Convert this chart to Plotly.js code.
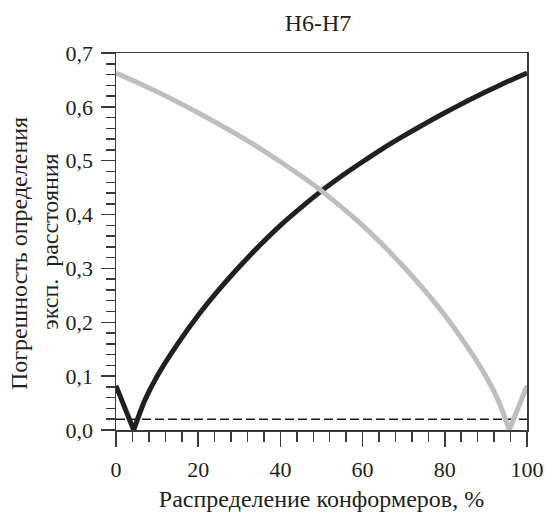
<!DOCTYPE html>
<html>
<head>
<meta charset="utf-8">
<script src="https://cdn.plot.ly/plotly-3.0.1.min.js"></script>
<style>
  html, body { margin: 0; padding: 0; background: #ffffff; }
  #chart { width: 545px; height: 512px; }
</style>
</head>
<body>
<div id="chart"></div>
<script>
// Conformer distribution, % (x) and relative error (y)
const blackX = [0, 4.3, 7, 10, 15, 20, 25, 30, 35, 40, 45, 50, 55, 60, 65, 70, 75, 80, 85, 90, 95, 100];
const blackY = [0.082, 0.0, 0.055, 0.100, 0.160, 0.213, 0.260, 0.303, 0.343, 0.380, 0.413, 0.444, 0.472, 0.498, 0.523, 0.546, 0.568, 0.589, 0.609, 0.628, 0.646, 0.663];

const grayX = [0, 5, 10, 15, 20, 25, 30, 35, 40, 45, 50, 55, 60, 65, 70, 75, 80, 85, 90, 93, 95.7, 100];
const grayY = [0.663, 0.646, 0.628, 0.609, 0.589, 0.568, 0.546, 0.523, 0.498, 0.472, 0.444, 0.413, 0.380, 0.343, 0.303, 0.260, 0.213, 0.160, 0.100, 0.055, 0.0, 0.082];

const thresholdX = [0, 100];
const thresholdY = [0.02, 0.02];

const xTickVals = [0, 20, 40, 60, 80, 100];
const yTickVals = [0, 0.1, 0.2, 0.3, 0.4, 0.5, 0.6, 0.7];
const yTickText = ['0,0', '0,1', '0,2', '0,3', '0,4', '0,5', '0,6', '0,7'];

const titleText = 'H6-H7';
const xTitle = 'Распределение конформеров, %';
const yTitle = 'Погрешность определения\u00A0\u00A0\u00A0\u00A0<br>эксп.\u00A0 расстояния';

const FONT = '"Liberation Serif", "Times New Roman", Times, serif';
const AX = '#3a3a3a';
const TXT = '#231f20';

// black curve: straight left arm, smooth right branch
const bLeft = { x: blackX.slice(0, 2), y: blackY.slice(0, 2) };
const bRight = { x: blackX.slice(1), y: blackY.slice(1) };
// gray curve: smooth left branch, straight right arm
const n = grayX.length;
const gLeft = { x: grayX.slice(0, n - 1), y: grayY.slice(0, n - 1) };
const gRight = { x: grayX.slice(n - 2), y: grayY.slice(n - 2) };

const blackLine = { color: '#231f20', width: 5 };
const grayLine = { color: '#bdbec1', width: 5 };

const traces = [
  { x: thresholdX, y: thresholdY, mode: 'lines', line: { color: '#1a1a1a', width: 1.5, dash: '9px,4px' }, showlegend: false },
  { x: bLeft.x, y: bLeft.y, mode: 'lines', line: blackLine, showlegend: false },
  { x: bRight.x, y: bRight.y, mode: 'lines', line: Object.assign({ shape: 'spline', smoothing: 0.8 }, blackLine), showlegend: false },
  { x: gLeft.x, y: gLeft.y, mode: 'lines', line: Object.assign({ shape: 'spline', smoothing: 0.8 }, grayLine), showlegend: false },
  { x: gRight.x, y: gRight.y, mode: 'lines', line: grayLine, showlegend: false }
];

const layout = {
  width: 545, height: 512,
  margin: { l: 116, r: 18, t: 53, b: 82 },
  paper_bgcolor: '#ffffff', plot_bgcolor: '#ffffff',
  font: { family: FONT, color: TXT, size: 21 },
  showlegend: false,
  title: { text: titleText, font: { family: FONT, size: 24, color: TXT },
           xref: 'container', x: 318 / 545, xanchor: 'center',
           yref: 'container', y: 1 - 14 / 512, yanchor: 'top' },
  xaxis: {
    range: [0, 100], tickvals: xTickVals, ticktext: xTickVals.map(String),
    ticks: 'outside', ticklen: 15, tickwidth: 1.5, tickcolor: AX,
    minor: { dtick: 4, tick0: 0, ticks: 'outside', ticklen: 10, tickwidth: 1.5, tickcolor: AX, showgrid: false },
    showline: true, linecolor: AX, linewidth: 1.5, mirror: true,
    showgrid: false, zeroline: false, ticklabelstandoff: 4,
    tickfont: { family: FONT, size: 22, color: TXT },
    title: { text: xTitle, font: { family: FONT, size: 24, color: TXT }, standoff: 14 }
  },
  yaxis: {
    range: [0, 0.7], tickvals: yTickVals, ticktext: yTickText,
    ticks: 'outside', ticklen: 14, tickwidth: 1.5, tickcolor: AX,
    minor: { dtick: 0.02, tick0: 0, ticks: 'outside', ticklen: 9, tickwidth: 1.5, tickcolor: AX, showgrid: false },
    showline: true, linecolor: AX, linewidth: 1.5, mirror: true,
    showgrid: false, zeroline: false, ticklabelstandoff: 3,
    tickfont: { family: FONT, size: 22, color: TXT },
    title: { text: yTitle, font: { family: FONT, size: 24, color: TXT }, standoff: 0 }
  }
};

Plotly.newPlot('chart', traces, layout, { staticPlot: true, displayModeBar: false });
</script>
</body>
</html>
